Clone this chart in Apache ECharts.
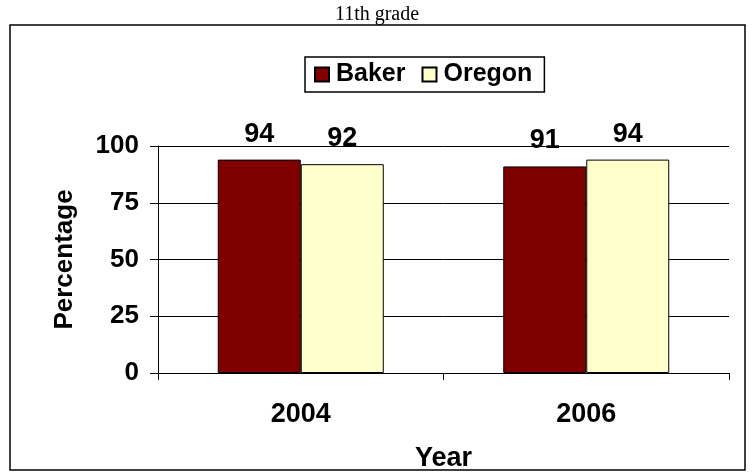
<!DOCTYPE html>
<html>
<head>
<meta charset="utf-8">
<script src="https://cdn.jsdelivr.net/npm/echarts@6/dist/echarts.min.js"></script>
<style>
  html, body { margin: 0; padding: 0; background: #ffffff; }
  #chart { width: 754px; height: 476px; }
</style>
</head>
<body>
<div id="chart"></div>
<script>
// Participation by year, Baker vs. state of Oregon
const years = ['2004', '2006'];
const bakerValues = [94, 91];
const oregonValues = [92, 94];
const yTickValues = [0, 25, 50, 75, 100];

const SANS = '"Liberation Sans", Arial, sans-serif';
const SERIF = '"Liberation Serif", "Times New Roman", serif';

const chart = echarts.init(document.getElementById('chart'), null, { renderer: 'canvas' });

const valueLabel = {
  show: true,
  position: 'top',
  distance: 12,
  color: '#000',
  fontFamily: SANS,
  fontWeight: 'bold',
  fontSize: 27
};

chart.setOption({
  backgroundColor: '#ffffff',
  animation: false,
  title: {
    text: '11th grade',
    left: 'center',
    top: 0,
    textStyle: { fontFamily: SERIF, fontWeight: 'normal', fontSize: 20, color: '#000' }
  },
  graphic: [{
    type: 'rect',
    silent: true,
    z: -1,
    shape: { x: 10, y: 25, width: 735, height: 445 },
    style: { fill: 'none', stroke: '#000', lineWidth: 1.5 }
  }],
  legend: {
    left: 305,
    top: 57,
    icon: 'rect',
    itemWidth: 14,
    itemHeight: 14,
    itemGap: 16,
    padding: [5, 12, 5, 9],
    borderColor: '#000',
    borderWidth: 1.5,
    textStyle: { fontFamily: SANS, fontWeight: 'bold', fontSize: 25, color: '#000', padding: [0, 0, 0, 2] },
    data: ['Baker', 'Oregon']
  },
  grid: { left: 158, right: 25, top: 146, bottom: 103, containLabel: false },
  xAxis: {
    type: 'category',
    data: years,
    name: 'Year',
    nameLocation: 'middle',
    nameGap: 72,
    nameTextStyle: { fontFamily: SANS, fontWeight: 'bold', fontSize: 27, color: '#000' },
    axisLine: { lineStyle: { color: '#000', width: 1 } },
    axisTick: { show: true, length: 7, lineStyle: { color: '#000' } },
    axisLabel: { margin: 28, fontFamily: SANS, fontWeight: 'bold', fontSize: 27, color: '#000' },
    splitLine: { show: false }
  },
  yAxis: {
    type: 'value',
    min: yTickValues[0],
    max: yTickValues[yTickValues.length - 1],
    interval: yTickValues[1] - yTickValues[0],
    name: 'Percentage',
    nameLocation: 'middle',
    nameGap: 80,
    nameTextStyle: { fontFamily: SANS, fontWeight: 'bold', fontSize: 26, color: '#000' },
    axisLine: { show: true, lineStyle: { color: '#000', width: 1 } },
    axisTick: { show: true, length: 8, lineStyle: { color: '#000' } },
    axisLabel: { margin: 19, fontFamily: SANS, fontWeight: 'bold', fontSize: 26, color: '#000' },
    splitLine: { show: true, lineStyle: { color: '#000', width: 1 } }
  },
  series: [
    {
      name: 'Baker',
      type: 'bar',
      data: bakerValues,
      barWidth: 83,
      barGap: '0%',
      itemStyle: { color: '#800000', borderColor: '#000', borderWidth: 1 },
      label: valueLabel
    },
    {
      name: 'Oregon',
      type: 'bar',
      data: oregonValues,
      barWidth: 83,
      barGap: '0%',
      itemStyle: { color: '#FFFFCC', borderColor: '#000', borderWidth: 1 },
      label: valueLabel
    }
  ]
});
</script>
</body>
</html>
